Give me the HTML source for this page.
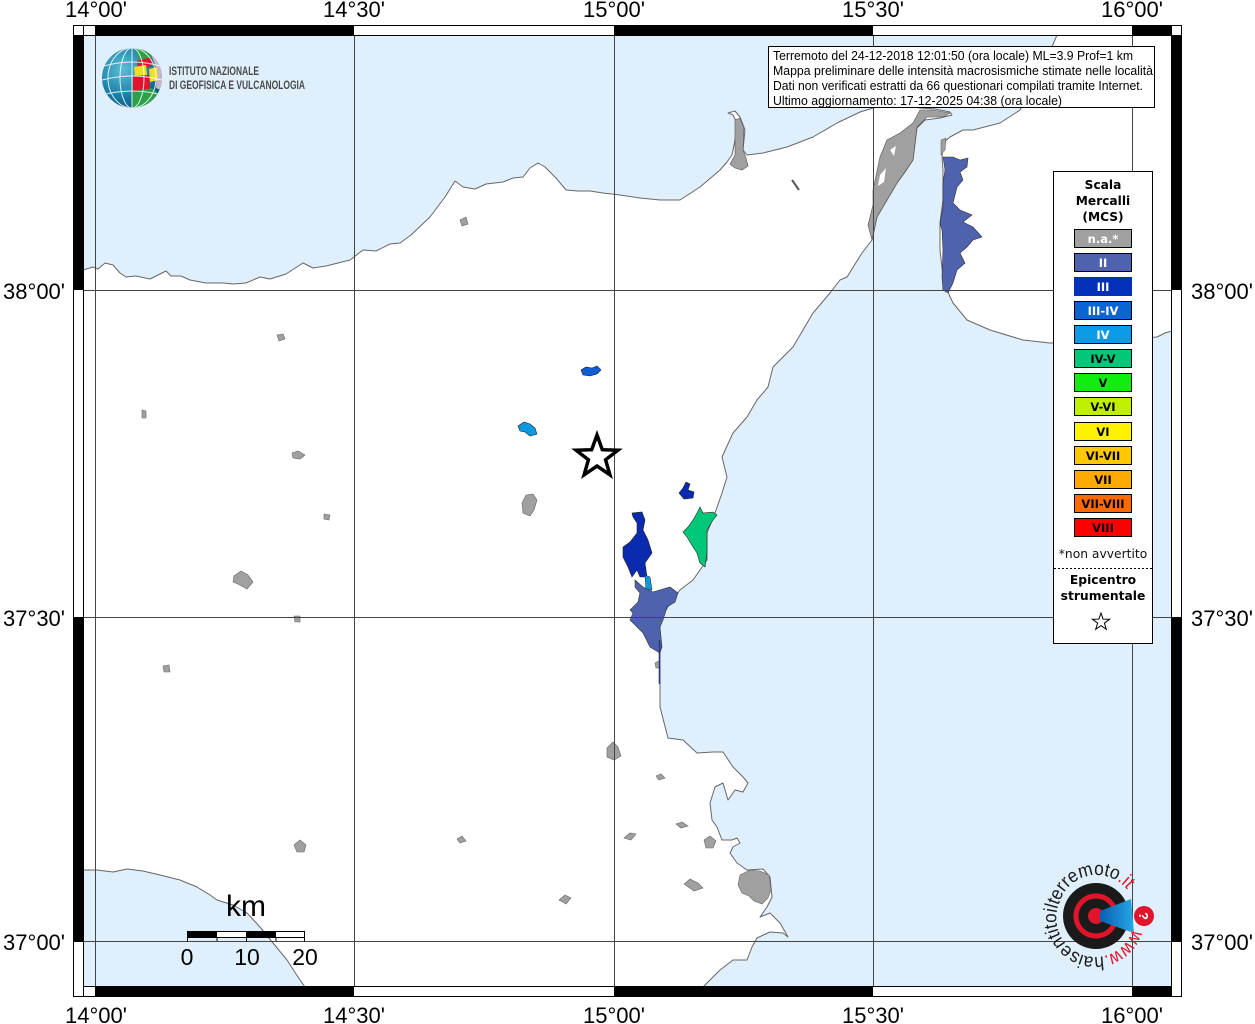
<!DOCTYPE html>
<html><head><meta charset="utf-8">
<style>
html,body{margin:0;padding:0;background:#fff;}
svg{display:block;}
</style></head>
<body>
<svg width="1255" height="1024" viewBox="0 0 1255 1024" xmlns="http://www.w3.org/2000/svg">
<defs>
<clipPath id="map"><rect x="83" y="35" width="1089" height="952"/></clipPath>
<clipPath id="gc"><circle cx="132" cy="78" r="30"/></clipPath>
<radialGradient id="gb" cx="0.35" cy="0.35" r="0.75">
<stop offset="0" stop-color="#5cc0d8"/><stop offset="0.6" stop-color="#1a7fa6"/><stop offset="1" stop-color="#0d4f78"/>
</radialGradient>
<linearGradient id="cone" x1="0" y1="0" x2="1" y2="0">
<stop offset="0" stop-color="#0a5fb0"/><stop offset="1" stop-color="#27a7e6"/>
</linearGradient>
</defs>

<!-- map -->
<g clip-path="url(#map)">
<rect x="83" y="35" width="1089" height="952" fill="#dff0fc"/>
<!-- Sicily -->
<polygon fill="#fff" stroke="#666" stroke-width="1" stroke-linejoin="round" points="
83,270 93,267 98,269 105,263 113,265 120,273 126,277 136,276 150,279 158,275 166,271 171,276 181,276 190,280 206,283 223,283 233,284 246,283 260,277 270,279 286,274 303,263 313,268 326,266 338,263 350,260 363,250 376,251 390,244 400,243 411,235 430,217 445,197 455,181 463,187 475,189 486,184 503,182 513,178 523,177 530,168 538,163 545,167 556,178 566,190 578,191 590,191 603,193 620,195 640,198 660,200 680,200 700,187 720,170 727,162 732,155 735,140 737,123 733,115 728,113 735,111 740,117 745,130 743,150 747,155 763,153 787,147 813,137 837,123 860,112 880,106 905,106 920,108 935,109 950,112 952,115 940,118 925,120 917,128 913,160 905,172 897,183 887,200 877,217 872,240 862,253 847,277 840,280 830,293 813,313 793,347 773,367 768,387 757,400 747,417 733,433 722,457 727,477 722,493 715,513 707,533 707,560 693,580 680,590 672,600 660,620 660,680 660,707 668,738 683,740 697,753 713,752 723,752 733,767 743,777 748,783 743,792 735,790 728,800 723,783 715,787 710,803 712,820 717,827 722,840 732,840 737,838 740,843 733,847 730,853 737,863 747,870 763,869 770,877 772,897 767,907 760,917 770,913 780,923 788,937 783,933 770,932 757,938 752,947 747,960 733,960 720,970 707,983 703,987 305,987 298,977 287,960 273,943 260,927 247,913 233,905 217,900 210,895 197,887 180,880 160,875 143,871 127,869 113,872 97,870 83,870"/>
<!-- Calabria -->
<polygon fill="#fff" stroke="#666" stroke-width="1" stroke-linejoin="round" points="
1057,35 1172,35 1172,331 1165,333 1157,337 1100,342 1050,343 1023,340 990,330 967,320 953,303 947,290 943,277 940,250 940,223 943,200 943,170 942,157 943,143 950,137 963,130 973,130 1000,123 1020,110 1040,75 1057,35"/>

<!-- Messina grey -->
<polygon fill="#a0a0a0" stroke="#555" stroke-width="0.6" points="873,190 880,157 887,140 900,133 913,123 920,110 933,110 950,113 943,117 927,117 917,127 913,160 897,183 887,200 877,217 872,240 868,225 873,205"/>
<polygon fill="#fff" points="880,175 886,168 884,182 878,186"/>
<polygon fill="#fff" points="890,150 896,146 894,156"/>
<!-- Milazzo grey -->
<polygon fill="#a0a0a0" stroke="#555" stroke-width="0.6" points="735,120 740,118 744,128 743,150 746,158 748,166 742,170 735,168 730,164 735,155"/>
<polyline points="792,180 799,190" stroke="#555" stroke-width="2" fill="none"/>
<!-- Calabria II region -->
<polygon fill="#4e62ad" stroke="#333" stroke-width="0.6" points="943,157 953,157 960,160 968,158 967,167 960,172 963,180 957,187 953,203 960,210 972,215 963,222 973,227 982,237 973,240 967,247 960,253 965,263 957,270 953,283 948,293 943,290 942,277 943,250 942,230 940,223 943,207 943,183 945,170"/>
<polygon fill="#a0a0a0" stroke="#555" stroke-width="0.5" points="941,140 946,138 945,150 941,155"/>

<!-- small grey localities -->
<g fill="#a0a0a0" stroke="#666" stroke-width="0.6">
<polygon points="277,335 283,334 285,339 279,341"/>
<polygon points="142,410 146,411 146,418 142,418"/>
<polygon points="292,453 298,451 305,455 300,459 293,458"/>
<polygon points="324,514 330,515 329,520 324,519"/>
<polygon points="234,576 241,571 248,575 253,582 247,589 240,585 233,582"/>
<polygon points="294,616 300,616 300,622 295,622"/>
<polygon points="163,666 169,665 170,672 164,672"/>
<polygon points="522,503 526,495 533,494 537,500 534,510 530,516 523,513"/>
<polygon points="607,748 613,742 618,747 621,756 614,760 607,757"/>
<polygon points="656,776 661,774 665,778 659,780"/>
<polygon points="624,838 630,833 636,834 631,840"/>
<polygon points="676,824 682,822 688,826 681,828"/>
<polygon points="457,839 462,836 466,841 460,843"/>
<polygon points="294,845 300,840 306,845 304,852 297,852"/>
<polygon points="559,900 565,895 571,898 566,904"/>
<polygon points="684,884 690,879 698,883 703,888 694,891"/>
<polygon points="704,840 710,836 716,841 713,848 706,848"/>
<polygon points="740,875 750,870 760,871 769,875 771,890 768,898 762,904 754,901 749,896 742,893 738,885"/>
<polygon points="460,220 466,217 468,224 462,226"/>
<polygon points="655,663 659,661 660,668 656,668"/>
</g>

<!-- felt areas -->
<polygon fill="#0b5ed0" stroke="#222" stroke-width="0.6" points="581,370 586,367 592,368 597,366 601,370 597,374 590,376 583,375"/>
<polygon fill="#0b9ae0" stroke="#222" stroke-width="0.6" points="518,426 524,422 530,424 535,428 537,434 530,436 525,432 520,431"/>
<polygon fill="#0a2ab0" stroke="#222" stroke-width="0.6" points="679,493 683,488 686,482 690,484 688,490 694,492 693,498 684,499"/>
<polygon fill="#00c878" stroke="#222" stroke-width="0.6" points="700,507 703,513 713,512 717,515 713,520 707,530 707,553 705,567 700,563 697,553 693,547 687,537 683,532 688,527 693,520 697,513"/>
<polygon fill="#0a2ab0" stroke="#222" stroke-width="0.6" points="632,513 642,512 645,520 643,530 648,540 652,553 645,563 647,577 640,577 637,570 632,577 628,567 623,557 623,547 630,542 637,533 637,523 633,517"/>
<polygon fill="#0b9ae0" stroke="#222" stroke-width="0.5" points="645,575 650,577 652,590 646,590"/>
<polygon fill="#4e62ad" stroke="#333" stroke-width="0.6" points="635,580 643,587 653,592 670,587 678,593 675,602 667,607 663,620 660,627 662,647 660,653 650,647 643,633 637,627 630,620 633,613 630,610 638,602 640,593 635,587"/>
<line x1="659.5" y1="640" x2="659.5" y2="684" stroke="#2c3a80" stroke-width="1.6"/>

<!-- grid -->
<g stroke="#444" stroke-width="1">
<line x1="95.5" y1="35" x2="95.5" y2="987"/>
<line x1="354.5" y1="35" x2="354.5" y2="987"/>
<line x1="614.5" y1="35" x2="614.5" y2="987"/>
<line x1="873.5" y1="35" x2="873.5" y2="987"/>
<line x1="1132.5" y1="35" x2="1132.5" y2="987"/>
<line x1="83" y1="290.5" x2="1172" y2="290.5"/>
<line x1="83" y1="617.5" x2="1172" y2="617.5"/>
<line x1="83" y1="941.5" x2="1172" y2="941.5"/>
</g>

<!-- epicentre star -->
<polygon fill="#fff" stroke="#000" stroke-width="3.5" stroke-linejoin="miter" points="597,435 602.3,449.7 617.9,450.2 605.6,459.8 609.9,474.8 597,466 584.1,474.8 588.4,459.8 576.1,450.2 591.7,449.7"/>

<!-- scale bar -->
<text x="246" y="916" font-family="Liberation Sans, sans-serif" font-size="30" text-anchor="middle">km</text>
<rect x="187.5" y="931.5" width="117" height="6" fill="#fff" stroke="#000" stroke-width="1"/>
<rect x="187.5" y="931.5" width="29.5" height="6" fill="#000"/>
<rect x="246" y="931.5" width="30" height="6" fill="#000"/>
<g stroke="#000" stroke-width="1">
<line x1="187.5" y1="931" x2="187.5" y2="942"/>
<line x1="217" y1="937" x2="217" y2="941"/>
<line x1="246.5" y1="931" x2="246.5" y2="942"/>
<line x1="276" y1="937" x2="276" y2="941"/>
<line x1="304.5" y1="931" x2="304.5" y2="942"/>
</g>
<g font-family="Liberation Sans, sans-serif" font-size="23" text-anchor="middle" fill="#000">
<text x="187" y="965">0</text><text x="247" y="965">10</text><text x="305" y="965">20</text>
</g>

<!-- INGV logo -->
<circle cx="132" cy="78" r="30" fill="url(#gb)"/>
<g clip-path="url(#gc)">
<polygon fill="#2aa04a" points="135,46 148,48 152,58 139,61"/>
<polygon fill="#e0142a" points="137,61 151,57 152,66 138,69"/>
<polygon fill="#c8b6c8" points="150,52 165,60 165,92 156,88 157,70"/>
<polygon fill="#f0e020" points="134,67 146,65 147,75 135,76"/>
<polygon fill="#f0e020" points="149,69 157,67 158,80 150,82"/>
<polygon fill="#e0142a" points="133,76 149,75 150,90 133,92"/>
<polygon fill="#2aa04a" points="132,92 152,88 160,95 150,110 132,110"/>
<g fill="none" stroke="#fff" stroke-width="1" opacity="0.85">
<ellipse cx="132" cy="78" rx="12" ry="30"/>
<ellipse cx="132" cy="78" rx="24" ry="30"/>
<line x1="132" y1="48" x2="132" y2="108"/>
<path d="M104,66 Q132,58 160,66"/>
<path d="M102,80 Q132,72 162,80"/>
<path d="M106,94 Q132,88 158,94"/>
</g>
</g>
<g font-family="Liberation Sans Narrow, Liberation Sans, sans-serif" font-size="12" fill="#4a4a4a" font-weight="bold">
<text x="169" y="75" textLength="90" lengthAdjust="spacingAndGlyphs">ISTITUTO NAZIONALE</text>
<text x="169" y="89" textLength="136" lengthAdjust="spacingAndGlyphs">DI GEOFISICA E VULCANOLOGIA</text>
</g>

<!-- HSIT logo -->
<circle cx="1096" cy="916" r="33" fill="#1a1a1a"/>
<circle cx="1096" cy="916" r="20" fill="none" stroke="#e0142a" stroke-width="5"/>
<circle cx="1096" cy="916" r="8" fill="#e0142a"/>
<polygon fill="url(#cone)" points="1100,911 1131,899 1134,933 1100,921"/>
<circle cx="1144" cy="916" r="10" fill="#e0142a"/>
<text x="1144" y="921" font-family="Liberation Sans, sans-serif" font-size="13" font-weight="bold" fill="#fff" text-anchor="middle" transform="rotate(90 1144 916)">?</text>
<path id="hsitp" d="M1132.6,929.3 A39,39 0 1,1 1059.4,902.7 A39,39 0 1,1 1132.6,929.3" fill="none"/>
<text font-family="Liberation Sans, sans-serif" font-size="19" fill="#1a1a1a">
<textPath href="#hsitp" textLength="211" lengthAdjust="spacingAndGlyphs"><tspan fill="#e0142a">www.</tspan>haisentitoilterremoto<tspan fill="#e0142a">.it</tspan></textPath>
</text>
</g>

<!-- text box -->
<rect x="768.5" y="46.5" width="386" height="61" fill="#fff" stroke="#000" stroke-width="1"/>
<g font-family="Liberation Sans, sans-serif" font-size="12.5" fill="#000">
<text x="773" y="60" textLength="360" lengthAdjust="spacingAndGlyphs">Terremoto del 24-12-2018 12:01:50 (ora locale) ML=3.9 Prof=1 km</text>
<text x="773" y="75" textLength="380" lengthAdjust="spacingAndGlyphs">Mappa preliminare delle intensità macrosismiche stimate nelle località</text>
<text x="773" y="90" textLength="370" lengthAdjust="spacingAndGlyphs">Dati non verificati estratti da 66 questionari compilati tramite Internet.</text>
<text x="773" y="105" textLength="289" lengthAdjust="spacingAndGlyphs">Ultimo aggiornamento: 17-12-2025 04:38 (ora locale)</text>
</g>

<!-- legend -->
<rect x="1053.5" y="171.5" width="99" height="472" fill="#fff" stroke="#000" stroke-width="1"/>
<g font-family="DejaVu Sans, sans-serif" font-weight="bold" font-size="12.2" text-anchor="middle" fill="#000">
<text x="1103" y="189">Scala</text>
<text x="1103" y="205">Mercalli</text>
<text x="1103" y="221">(MCS)</text>
</g>
<g stroke="#000" stroke-width="1">
<rect x="1074.5" y="229.5" width="57" height="18" fill="#a0a0a0"/>
<rect x="1074.5" y="253.5" width="57" height="18" fill="#4e62ad"/>
<rect x="1074.5" y="277.5" width="57" height="18" fill="#0430b8" stroke="#0430b8"/>
<rect x="1074.5" y="301.5" width="57" height="18" fill="#0a64d2"/>
<rect x="1074.5" y="325.5" width="57" height="18" fill="#0a9be6"/>
<rect x="1074.5" y="349.5" width="57" height="18" fill="#00c878"/>
<rect x="1074.5" y="373.5" width="57" height="18" fill="#10ee10"/>
<rect x="1074.5" y="397.5" width="57" height="18" fill="#c0f000"/>
<rect x="1074.5" y="422.5" width="57" height="18" fill="#fff200"/>
<rect x="1074.5" y="446.5" width="57" height="18" fill="#ffc800"/>
<rect x="1074.5" y="470.5" width="57" height="18" fill="#ffa800"/>
<rect x="1074.5" y="494.5" width="57" height="18" fill="#ff6a00"/>
<rect x="1074.5" y="518.5" width="57" height="18" fill="#ff0000"/>
</g>
<g font-family="DejaVu Sans, sans-serif" font-weight="bold" font-size="11.5" text-anchor="middle">
<text x="1103" y="243" fill="#fff">n.a.*</text>
<text x="1103" y="267" fill="#fff">II</text>
<text x="1103" y="291" fill="#fff">III</text>
<text x="1103" y="315" fill="#fff">III-IV</text>
<text x="1103" y="339" fill="#fff">IV</text>
<text x="1103" y="363" fill="#000">IV-V</text>
<text x="1103" y="387" fill="#000">V</text>
<text x="1103" y="411" fill="#000">V-VI</text>
<text x="1103" y="436" fill="#000">VI</text>
<text x="1103" y="460" fill="#000">VI-VII</text>
<text x="1103" y="484" fill="#000">VII</text>
<text x="1103" y="508" fill="#000">VII-VIII</text>
<text x="1103" y="532" fill="#000">VIII</text>
</g>
<text x="1103" y="558" font-family="DejaVu Sans, sans-serif" font-size="12.3" text-anchor="middle" fill="#111">*non avvertito</text>
<line x1="1054" y1="568.5" x2="1152" y2="568.5" stroke="#000" stroke-width="1" stroke-dasharray="2,2"/>
<g font-family="DejaVu Sans, sans-serif" font-weight="bold" font-size="12.3" text-anchor="middle" fill="#000">
<text x="1103" y="584">Epicentro</text>
<text x="1103" y="600">strumentale</text>
</g>
<polygon fill="#fff" stroke="#000" stroke-width="1" points="1101,613 1103.1,619.1 1109.6,619.2 1104.4,623.1 1106.3,629.3 1101,625.6 1095.7,629.3 1097.6,623.1 1092.4,619.2 1098.9,619.1"/>

<!-- frame -->
<g>
<rect x="73.5" y="25.5" width="1108" height="971" fill="none" stroke="#000" stroke-width="1"/>
<rect x="83.5" y="35.5" width="1088" height="951" fill="none" stroke="#000" stroke-width="1"/>
<rect x="95" y="25" width="259" height="10" fill="#000"/>
<rect x="614" y="25" width="259" height="10" fill="#000"/>
<rect x="1132" y="25" width="40" height="10" fill="#000"/>
<rect x="95" y="987" width="259" height="10" fill="#000"/>
<rect x="614" y="987" width="259" height="10" fill="#000"/>
<rect x="1132" y="987" width="40" height="10" fill="#000"/>
<rect x="73" y="35" width="10" height="255" fill="#000"/>
<rect x="73" y="617" width="10" height="324" fill="#000"/>
<rect x="1172" y="35" width="10" height="255" fill="#000"/>
<rect x="1172" y="617" width="10" height="324" fill="#000"/>
<g stroke="#000" stroke-width="1">
<line x1="83.5" y1="25" x2="83.5" y2="35"/>
<line x1="1171.5" y1="25" x2="1171.5" y2="35"/>
<line x1="83.5" y1="987" x2="83.5" y2="997"/>
<line x1="1171.5" y1="987" x2="1171.5" y2="997"/>
<line x1="95.5" y1="25" x2="95.5" y2="35"/>
<line x1="95.5" y1="987" x2="95.5" y2="997"/>
<line x1="73" y1="941.5" x2="83" y2="941.5"/>
<line x1="1172" y1="941.5" x2="1182" y2="941.5"/>
</g>
</g>

<!-- axis labels -->
<g font-family="Liberation Sans, sans-serif" font-size="22" fill="#000" text-anchor="middle">
<text x="96" y="17">14°00'</text>
<text x="354" y="17">14°30'</text>
<text x="614" y="17">15°00'</text>
<text x="873" y="17">15°30'</text>
<text x="1132" y="17">16°00'</text>
<text x="96" y="1023">14°00'</text>
<text x="354" y="1023">14°30'</text>
<text x="614" y="1023">15°00'</text>
<text x="873" y="1023">15°30'</text>
<text x="1132" y="1023">16°00'</text>
</g>
<g font-family="Liberation Sans, sans-serif" font-size="22" fill="#000" text-anchor="end">
<text x="65" y="299">38°00'</text>
<text x="65" y="626">37°30'</text>
<text x="65" y="950">37°00'</text>
</g>
<g font-family="Liberation Sans, sans-serif" font-size="22" fill="#000" text-anchor="start">
<text x="1191" y="299">38°00'</text>
<text x="1191" y="626">37°30'</text>
<text x="1191" y="950">37°00'</text>
</g>
</svg>
</body></html>
